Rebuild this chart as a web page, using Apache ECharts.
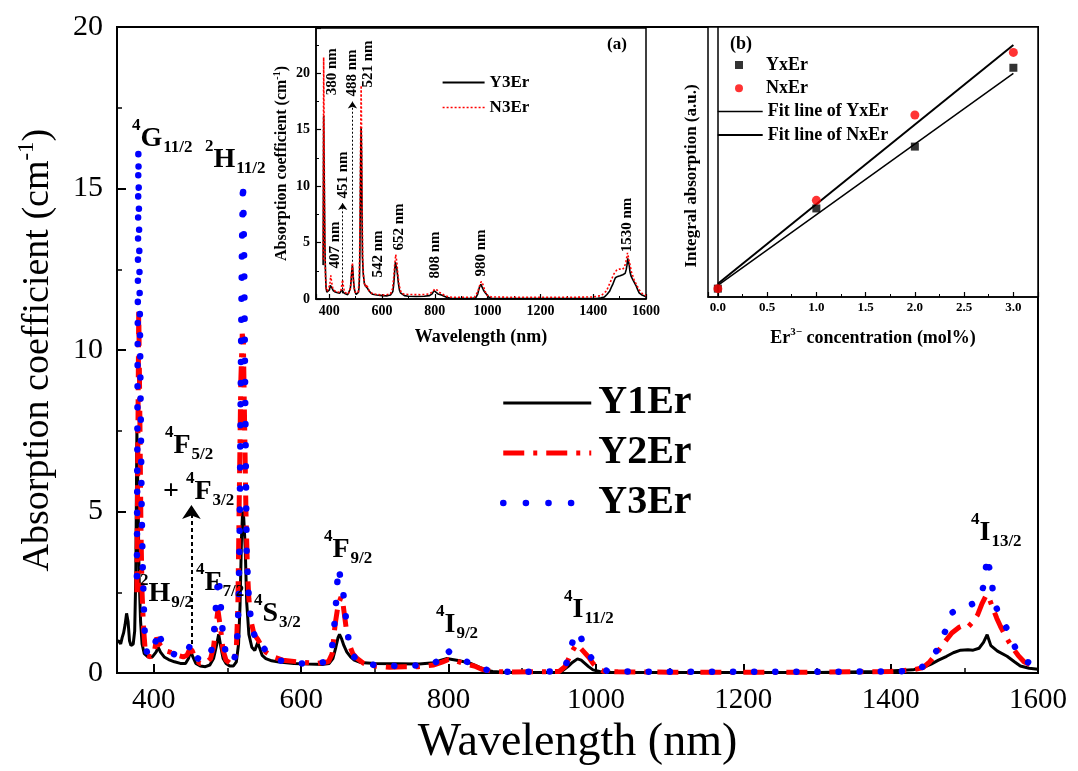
<!DOCTYPE html>
<html><head><meta charset="utf-8">
<script src="https://cdn.jsdelivr.net/npm/echarts@6/dist/echarts.min.js"></script>
<style>html,body{margin:0;padding:0;background:#fff}#c{width:1078px;height:771px}</style>
</head><body><div id="c"></div>
<script>
// ---------- Main spectra (wavelength nm / absorption cm-1) ----------
const wlY1 = [350,353,355,357,359,361,363,365,367,369,372,374,375.5,377,378.5,380,382,384,387,392,398,403,406,409,414,420,428,436,443,447,450,453,457,463,470,476,481,485,488,491,494,498,503,508,512,515,517,519,520.5,522,524,526,529,533,537,541,544,547,552,560,570,590,610,630,638,643,647,650,652,655,658,662,667,672,680,700,730,760,780,790,797,805,815,830,840,850,860,880,920,945,955,962,968,975,980,985,990,996,1005,1020,1100,1200,1300,1385,1430,1445,1455,1465,1476,1485,1495,1505,1512,1520,1526,1531,1536,1545,1558,1568,1576,1588,1600];
const absY1 = [0.95,1.0,0.9,1.1,1.25,1.5,1.85,1.6,1.0,0.85,0.9,1.3,3.0,7.5,5.5,3.0,1.6,0.9,0.6,0.5,0.5,0.65,0.8,0.65,0.5,0.42,0.35,0.3,0.3,0.45,0.68,0.5,0.3,0.22,0.2,0.25,0.45,0.85,1.2,0.8,0.45,0.3,0.22,0.22,0.35,0.9,2.1,4.2,5.0,4.8,3.9,2.2,1.2,0.8,0.7,0.95,0.75,0.55,0.45,0.38,0.34,0.3,0.28,0.27,0.3,0.45,0.8,1.1,1.2,1.05,0.85,0.65,0.5,0.4,0.33,0.3,0.29,0.28,0.32,0.4,0.45,0.42,0.38,0.3,0.2,0.1,0.05,0.02,0.02,0.03,0.08,0.2,0.33,0.44,0.4,0.3,0.2,0.1,0.05,0.03,0.02,0.02,0.02,0.05,0.1,0.18,0.28,0.4,0.52,0.63,0.71,0.72,0.71,0.77,0.95,1.19,0.85,0.68,0.52,0.35,0.22,0.15,0.12];

const wlY2 = [377,379.5,381,382.5,384,386,388,391,396,401,404,406.5,409,414,422,432,440,445,449,452,456,462,470,477,481,484,487,489,491,494,498,504,509,512,514,516,518,520,521.5,523,525,527,529,532,536,541,546,552,562,575,595,620,637,642,646,650,654,657,661,665,670,676,685,700,720,740,760,780,792,800,810,820,835,845,858,880,950,958,966,973,978,984,990,996,1002,1010,1030,1100,1200,1300,1400,1430,1444,1453,1463,1473,1483,1493,1501,1506,1512,1518,1524,1530,1534,1538,1544,1549,1557,1565,1573,1581,1590,1600];
const absY2 = [2.5,11.3,8.0,4.5,2.5,1.4,0.8,0.55,0.5,0.7,1.1,1.05,0.85,0.7,0.65,0.55,0.5,0.55,0.75,0.7,0.45,0.3,0.3,0.45,0.8,1.4,1.95,1.9,1.3,0.7,0.4,0.3,0.35,0.8,2.0,5.5,9.0,10.5,10.3,8.0,5.0,3.2,2.3,1.6,1.2,1.05,0.85,0.65,0.5,0.4,0.35,0.3,0.35,0.6,1.5,2.1,2.35,2.1,1.4,0.9,0.6,0.45,0.3,0.22,0.18,0.2,0.2,0.25,0.35,0.42,0.38,0.3,0.22,0.12,0.06,0.03,0.05,0.2,0.6,0.88,0.8,0.65,0.5,0.3,0.15,0.06,0.04,0.03,0.03,0.03,0.05,0.1,0.17,0.35,0.63,0.95,1.24,1.42,1.5,1.45,1.6,1.8,2.15,2.42,2.3,2.05,1.7,1.45,1.1,0.8,0.55,0.35,0.25,0.2];

const wlY3 = [377,379,380.5,382,383.5,385,386.5,388,391,396,401,404,407,410,415,423,432,440,445,448,450.5,453,457,463,470,476,480,483,485.5,488,490,492,494,497,502,508,511,513,515,516.5,518,519.5,521,522.5,524,526,529,533,537,541,545,550,557,565,580,600,620,632,638,641,644,646.5,649,651,653.5,656,659,662,666,670,676,685,700,730,760,780,790,797,803,812,825,838,848,860,880,940,955,962,966,970,974.5,979,985,991,998,1005,1015,1040,1100,1200,1300,1400,1417,1430,1442,1452,1462,1468,1474,1479,1484,1493,1502,1512,1521,1525,1528,1531,1534,1536.5,1539.5,1544,1549,1556,1562,1568,1574,1585,1598];
const absY3 = [3.0,16.2,12.5,8.5,5.0,3.2,2.0,1.0,0.6,0.55,0.8,1.2,1.33,1.0,0.75,0.62,0.55,0.52,0.6,0.8,0.92,0.75,0.5,0.4,0.38,0.5,0.9,1.6,2.5,3.0,2.4,1.67,1.15,0.7,0.4,0.35,0.6,1.0,2.1,4.5,9.0,13.0,15.2,13.0,8.5,3.7,2.25,1.4,1.15,1.2,0.95,0.75,0.55,0.42,0.35,0.3,0.28,0.35,0.5,0.65,1.2,1.9,2.8,3.26,2.9,2.7,2.1,1.4,0.8,0.55,0.4,0.3,0.25,0.22,0.24,0.3,0.45,0.75,0.6,0.45,0.35,0.22,0.12,0.06,0.04,0.05,0.1,0.4,0.78,1.1,1.29,1.15,0.75,0.55,0.35,0.15,0.07,0.05,0.04,0.04,0.04,0.05,0.06,0.1,0.17,0.4,0.68,1.0,1.29,1.6,1.88,2.0,2.06,2.15,2.27,2.6,3.0,3.6,3.25,3.0,2.37,2.0,1.75,1.45,1.19,0.85,0.54,0.35,0.22];

// ---------- Inset (a): N3Er ----------
const wlN3 = [377,379,381,382.5,384,386,388,392,398,402,406,409,414,422,432,440,445,448,451,454,458,465,472,478,482,485,488,491,494,498,505,510,513,515,517,519,521,523,525,527,530,534,538,542,546,552,562,580,610,632,640,644,648,652,656,660,665,672,680,700,750,780,792,800,808,820,835,850,870,950,962,970,976,982,990,1000,1015,1100,1200,1300,1400,1430,1450,1465,1478,1490,1500,1510,1518,1524,1530,1536,1545,1555,1565,1575,1585,1600];
const absN3 = [3.5,21.4,14,8,4,2,1.0,0.7,0.7,1.2,2.1,1.5,0.9,0.7,0.62,0.6,0.8,1.3,1.7,1.1,0.6,0.45,0.45,0.7,1.3,2.3,3.2,2.0,1.0,0.6,0.45,0.6,1.5,3.5,8,14,18.9,14,8,3.5,2.0,1.3,1.1,1.3,1.0,0.7,0.5,0.4,0.35,0.45,0.9,1.8,3.0,3.93,3.3,2.2,1.2,0.6,0.45,0.4,0.38,0.45,0.65,0.89,0.8,0.55,0.35,0.2,0.15,0.15,0.6,1.2,1.55,1.3,0.7,0.3,0.18,0.15,0.15,0.15,0.18,0.3,0.7,1.5,2.2,2.6,2.66,2.6,2.8,3.3,4.08,3.4,2.4,1.7,1.2,0.8,0.5,0.3];
const insetPeakLabels = ['380 nm','488 nm','521 nm','451 nm','407 nm','542 nm','652 nm','808 nm','980 nm','1530 nm'];

// ---------- Inset (b): integral absorption ----------
const concX = [0,1,2,3];
const integYxEr = [0.31,3.28,5.57,8.49];
const integNxEr = [0.31,3.58,6.74,9.06];
const fitX = [0,3];
const fitYxEr = [0.43,8.28];
const fitNxEr = [0.49,9.33];

const zip = (a,b) => a.map((v,i) => [v,b[i]]);
const SERIF = '"Liberation Serif","Times New Roman",serif';
const plain = (v) => String(v);

const mctx = document.createElement('canvas').getContext('2d');
function tw(t, size) { mctx.font = 'bold ' + size + 'px ' + SERIF; return mctx.measureText(t).width; }
function tx(x, y, t, size) {
  return {type:'text', x:x, y:y, z:100, silent:true, style:{
    text:t, fontSize:size, fontWeight:'bold', fontFamily:SERIF, fill:'#000',
    textAlign:'left', align:'left', textVerticalAlign:'middle', verticalAlign:'middle'}};
}
function term(x, y, sup, main, sub, pre) {
  const M = 28, S = 17, els = [];
  if (pre) { els.push(tx(x, y, pre, M)); x += tw(pre, M); }
  els.push(tx(x, y - 13, sup, S)); x += tw(sup, S);
  els.push(tx(x, y, main, M)); x += tw(main, M);
  els.push(tx(x + 1, y + 9, sub, S));
  return els;
}
function vtext(x, y, t) {
  return {type:'text', x:x, y:y, rotation:Math.PI/2, z:100, silent:true, style:{
    text:t, fontSize:15, fontWeight:'bold', fontFamily:SERIF, fill:'#000',
    textAlign:'center', align:'center', textVerticalAlign:'middle', verticalAlign:'middle'}};
}
function ptext(x, y, t, size) {
  return {type:'text', x:x, y:y, z:100, silent:true, style:{
    text:t, fontSize:size, fontWeight:'bold', fontFamily:SERIF, fill:'#000',
    textAlign:'center', align:'center', textVerticalAlign:'middle', verticalAlign:'middle'}};
}

const axisCommon = (w) => ({
  axisLine:{lineStyle:{color:'#000', width:w}},
  splitLine:{show:false}
});

const insetPos = [[331.7,71.7],[352,73],[368,64],[343,175],[335,245],[378,254],[399,227],[435,255],[481,253],[627,225]];

const option = {
  animation:false,
  backgroundColor:'#fff',
  grid:[
    {left:117, top:27, width:921, height:650, show:true, borderColor:'#000', borderWidth:2, backgroundColor:'transparent'},
    {left:316, top:28, width:330, height:271, show:true, borderColor:'#000', borderWidth:1.5, backgroundColor:'#fff'},
    {left:708, top:27, width:330, height:270, show:true, borderColor:'#000', borderWidth:1.5, backgroundColor:'#fff'}
  ],
  xAxis:[
    Object.assign(axisCommon(2), {gridIndex:0, type:'value', min:350, max:1600, splitNumber:6,
      axisTick:{inside:true, length:9, lineStyle:{color:'#000', width:2}},
      minorTick:{show:true, splitNumber:2, length:5, lineStyle:{color:'#000', width:1.5}},
      axisLabel:{fontSize:29, fontFamily:SERIF, color:'#000', margin:13, showMinLabel:false, formatter:plain},
      name:'Wavelength (nm)', nameLocation:'middle', nameGap:45,
      nameTextStyle:{fontSize:46, fontFamily:SERIF, color:'#000'}}),
    Object.assign(axisCommon(1.5), {gridIndex:1, type:'value', min:350, max:1600, splitNumber:6,
      axisTick:{inside:true, length:5, lineStyle:{color:'#000', width:1.2}},
      minorTick:{show:true, splitNumber:2, length:3, lineStyle:{color:'#000', width:1}},
      axisLabel:{fontSize:14, fontWeight:'bold', fontFamily:SERIF, color:'#000', margin:5, showMinLabel:false, formatter:plain},
      name:'Wavelength (nm)', nameLocation:'middle', nameGap:29,
      nameTextStyle:{fontSize:18, fontWeight:'bold', fontFamily:SERIF, color:'#000'}}),
    Object.assign(axisCommon(1.5), {gridIndex:2, type:'value', min:-0.1, max:3.25, splitNumber:7,
      axisTick:{inside:true, length:5, lineStyle:{color:'#000', width:1.2}},
      minorTick:{show:true, splitNumber:2, length:3, lineStyle:{color:'#000', width:1}},
      axisLabel:{fontSize:13, fontWeight:'bold', fontFamily:SERIF, color:'#000', margin:4,
        showMinLabel:false, showMaxLabel:false, formatter:(v)=>v.toFixed(1)},
      name:'Er{s|3\u2212} concentration (mol%)', nameLocation:'middle', nameGap:30,
      nameTextStyle:{fontSize:18, fontWeight:'bold', fontFamily:SERIF, color:'#000', lineHeight:22,
        rich:{s:{fontSize:11, fontWeight:'bold', fontFamily:SERIF, color:'#000', lineHeight:12, verticalAlign:'top'}}}})
  ],
  yAxis:[
    Object.assign(axisCommon(2), {gridIndex:0, type:'value', min:0, max:20, interval:5,
      axisTick:{inside:true, length:9, lineStyle:{color:'#000', width:2}},
      minorTick:{show:true, splitNumber:2, length:5, lineStyle:{color:'#000', width:1.5}},
      axisLabel:{fontSize:30, fontFamily:SERIF, color:'#000', margin:14},
      name:'Absorption coefficient (cm{s|-1})', nameLocation:'middle', nameGap:56,
      nameTextStyle:{fontSize:38, fontFamily:SERIF, color:'#000', lineHeight:46,
        rich:{s:{fontSize:23, fontFamily:SERIF, color:'#000', lineHeight:26, verticalAlign:'top'}}}}),
    Object.assign(axisCommon(1.5), {gridIndex:1, type:'value', min:0, max:24, interval:5,
      axisTick:{inside:true, length:5, lineStyle:{color:'#000', width:1.2}},
      minorTick:{show:true, splitNumber:2, length:3, lineStyle:{color:'#000', width:1}},
      axisLabel:{fontSize:14, fontWeight:'bold', fontFamily:SERIF, color:'#000', margin:6, showMaxLabel:false},
      name:'Absorption coefficient (cm{s|-1})', nameLocation:'middle', nameGap:24,
      nameTextStyle:{fontSize:16, fontWeight:'bold', fontFamily:SERIF, color:'#000', lineHeight:20,
        rich:{s:{fontSize:10, fontWeight:'bold', fontFamily:SERIF, color:'#000', lineHeight:11, verticalAlign:'top'}}}}),
    Object.assign(axisCommon(1.5), {gridIndex:2, type:'value', min:0, max:10,
      axisTick:{show:false}, axisLabel:{show:false},
      name:'Integral absorption (a.u.)', nameLocation:'middle', nameGap:8,
      nameTextStyle:{fontSize:17, fontWeight:'bold', fontFamily:SERIF, color:'#000', padding:[0,28,0,0]}})
  ],
  legend:[
    {left:500, top:383, orient:'vertical', padding:0, itemWidth:88, itemHeight:10, itemGap:10,
      itemStyle:{opacity:0},
      data:[
        {name:'Y1Er', itemStyle:{opacity:0}, lineStyle:{color:'#000', width:3}},
        {name:'Y2Er', itemStyle:{opacity:0}, lineStyle:{color:'#ff0000', width:5, type:[21,9,4,9]}},
        {name:'Y3Er', itemStyle:{opacity:0}, lineStyle:{color:'#0000ff', width:6.5, type:[0.1,22.5], cap:'round'}}
      ],
      textStyle:{fontSize:40, fontWeight:'bold', fontFamily:SERIF, color:'#000', lineHeight:37.5, padding:[0,0,0,2]}},
    {left:441.7, top:74, orient:'vertical', padding:0, itemWidth:42, itemHeight:8, itemGap:8,
      itemStyle:{opacity:0},
      data:[
        {name:'Y3Er(a)', itemStyle:{opacity:0}, lineStyle:{color:'#000', width:1.8}},
        {name:'N3Er', itemStyle:{opacity:0}, lineStyle:{color:'#ff0000', width:1.6, type:[2,2]}}
      ],
      formatter:(n)=>n.replace('(a)',''),
      textStyle:{fontSize:17, fontWeight:'bold', fontFamily:SERIF, color:'#000', lineHeight:17}},
    {left:735, top:56, orient:'vertical', padding:0, itemWidth:8, itemHeight:8, itemGap:5.3,
      data:['YxEr','NxEr'],
      textStyle:{fontSize:18, fontWeight:'bold', fontFamily:SERIF, color:'#000', lineHeight:18, padding:[0,0,0,18]}},
    {left:716.7, top:102.6, orient:'vertical', padding:0, itemWidth:45, itemHeight:8, itemGap:5.3,
      itemStyle:{opacity:0},
      data:[
        {name:'Fit line of YxEr', itemStyle:{opacity:0}, lineStyle:{color:'#000', width:1.5}},
        {name:'Fit line of NxEr', itemStyle:{opacity:0}, lineStyle:{color:'#000', width:2}}
      ],
      textStyle:{fontSize:18, fontWeight:'bold', fontFamily:SERIF, color:'#000', lineHeight:18}}
  ],
  series:[
    {name:'Y1Er', type:'line', xAxisIndex:0, yAxisIndex:0, data:zip(wlY1,absY1), symbol:'none', z:3,
      lineStyle:{color:'#000', width:3}, itemStyle:{color:'#000'},
      markLine:{silent:true, symbol:['none','arrow'], symbolSize:14, label:{show:false},
        lineStyle:{color:'#000', width:2, type:[4,3]},
        data:[[{coord:[451,0.9]},{coord:[451,5.2]}]]}},
    {name:'Y2Er', type:'line', xAxisIndex:0, yAxisIndex:0, data:zip(wlY2,absY2), symbol:'none', z:4,
      lineStyle:{color:'#ff0000', width:5, type:[21,9,4,9]}, itemStyle:{color:'#ff0000'}},
    {name:'Y3Er', type:'line', xAxisIndex:0, yAxisIndex:0, data:zip(wlY3,absY3), symbol:'none', z:5,
      lineStyle:{color:'#0000ff', width:6.5, type:[0.1,21], cap:'round'}, itemStyle:{color:'#0000ff'}},

    {name:'Y3Er(a)', type:'line', xAxisIndex:1, yAxisIndex:1, data:zip(wlY3,absY3), symbol:'none', z:6,
      lineStyle:{color:'#000', width:1.6}, itemStyle:{color:'#000'},
      markLine:{silent:true, symbol:['none','arrow'], symbolSize:7, label:{show:false},
        lineStyle:{color:'#000', width:1, type:[2,2]},
        data:[[{coord:[451,0.5]},{coord:[451,8.5]}],[{coord:[488,3.3]},{coord:[488,17.5]}]]}},
    {name:'N3Er', type:'line', xAxisIndex:1, yAxisIndex:1, data:zip(wlN3,absN3), symbol:'none', z:7,
      lineStyle:{color:'#ff0000', width:1.6, type:[2,2]}, itemStyle:{color:'#ff0000'}},

    {name:'Fit line of YxEr', type:'line', xAxisIndex:2, yAxisIndex:2, data:zip(fitX,fitYxEr), symbol:'none', z:6,
      lineStyle:{color:'#000', width:1.5}, itemStyle:{color:'#000'}},
    {name:'Fit line of NxEr', type:'line', xAxisIndex:2, yAxisIndex:2, data:zip(fitX,fitNxEr), symbol:'none', z:6,
      lineStyle:{color:'#000', width:2}, itemStyle:{color:'#000'}},
    {name:'YxEr', type:'scatter', xAxisIndex:2, yAxisIndex:2, data:zip(concX,integYxEr), symbol:'rect', symbolSize:8, z:8,
      itemStyle:{color:'#000'}},
    {name:'NxEr', type:'scatter', xAxisIndex:2, yAxisIndex:2, data:zip(concX,integNxEr), symbol:'circle', symbolSize:9, z:8,
      itemStyle:{color:'#ff0000'}}
  ],
  graphic:[].concat(
    term(132,139,'4','G','11/2'),
    term(205,160,'2','H','11/2'),
    term(165,446,'4','F','5/2'),
    term(163,492,'4','F','3/2','+ '),
    term(196,583,'4','F','7/2'),
    term(140,594,'2','H','9/2'),
    term(254,614,'4','S','3/2'),
    term(324,550,'4','F','9/2'),
    term(436,625,'4','I','9/2'),
    term(564,610,'4','I','11/2'),
    term(971,533,'4','I','13/2'),
    [ptext(617,45,'(a)',17), ptext(741,44,'(b)',18)],
    insetPeakLabels.map((t,i)=>vtext(insetPos[i][0], insetPos[i][1], t))
  )
};

const chart = echarts.init(document.getElementById('c'), null, {renderer:'canvas'});
chart.setOption(option);
</script>
</body></html>
